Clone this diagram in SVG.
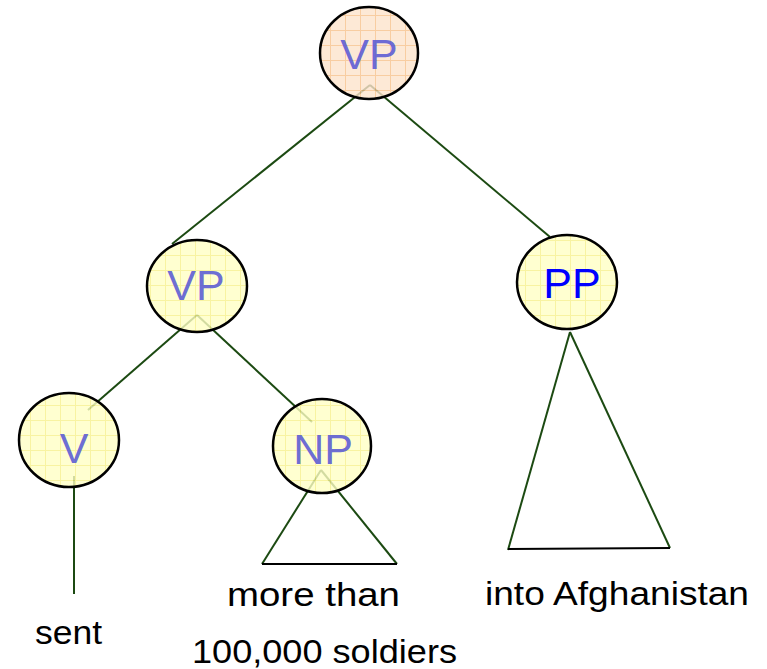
<svg xmlns="http://www.w3.org/2000/svg" width="767" height="669" viewBox="0 0 767 669">
<defs>
<pattern id="gy" width="15" height="15" patternUnits="userSpaceOnUse">
<rect width="15" height="15" fill="#ffffc4"/>
<path d="M0 0.5H15M0.5 0V15" stroke="#f6f08a" stroke-width="1" fill="none"/>
</pattern>
<pattern id="go" width="15" height="15" patternUnits="userSpaceOnUse">
<rect width="15" height="15" fill="#fde3cc"/>
<path d="M0 0.5H15M0.5 0V15" stroke="#f6c08a" stroke-width="1" fill="none"/>
</pattern>
<style>
.edge{stroke:#1c4a12;stroke-width:2;fill:none}
.base{stroke:#000;stroke-width:2;fill:none}
.node{stroke:#000;stroke-width:2.5;fill-opacity:0.8}
.lbl{font-family:"Liberation Sans",Arial,sans-serif;font-size:43px;text-anchor:middle;fill:#5a5ad4;fill-opacity:0.9}
.word{font-family:"Liberation Sans",Arial,sans-serif;font-size:34px;fill:#000}
</style>
</defs>
<rect width="767" height="669" fill="#fff"/>
<g id="connectors">
<line class="edge" x1="370" y1="85" x2="172" y2="244"/>
<line class="edge" x1="370" y1="85" x2="550" y2="237"/>
<line class="edge" x1="197" y1="315" x2="88" y2="410"/>
<line class="edge" x1="197" y1="315" x2="312" y2="422"/>
<line class="edge" x1="74" y1="476" x2="74" y2="594"/>
<line class="edge" x1="321" y1="470" x2="262" y2="564"/>
<line class="edge" x1="321" y1="470" x2="397" y2="564"/>
<line class="base" x1="262" y1="564" x2="397" y2="564"/>
<line class="edge" x1="570" y1="332" x2="508" y2="550"/>
<line class="edge" x1="570" y1="332" x2="670" y2="548"/>
<line class="base" x1="508" y1="549" x2="670" y2="548"/>
</g>
<g id="vp-top">
<ellipse class="node" cx="369" cy="53" rx="49" ry="46" fill="url(#go)"/>
<text class="lbl" x="369" y="69">VP</text>
</g>
<g id="vp-left">
<ellipse class="node" cx="197" cy="286" rx="50" ry="46" fill="url(#gy)"/>
<text class="lbl" x="196" y="300">VP</text>
</g>
<g id="v">
<ellipse class="node" cx="69" cy="440" rx="50" ry="47" fill="url(#gy)"/>
<text class="lbl" x="74" y="463">V</text>
</g>
<g id="np">
<ellipse class="node" cx="322" cy="446" rx="49" ry="47" fill="url(#gy)"/>
<text class="lbl" x="323" y="464">NP</text>
</g>
<g id="pp">
<ellipse class="node" cx="567" cy="282" rx="50" ry="47" fill="url(#gy)"/>
<text class="lbl" x="572" y="298" style="fill:#0000ff;fill-opacity:1">PP</text>
</g>
<g id="words">
<text class="word" x="35" y="644" textLength="67" lengthAdjust="spacingAndGlyphs">sent</text>
<text class="word" x="227" y="606" textLength="173" lengthAdjust="spacingAndGlyphs">more than</text>
<text class="word" x="192" y="663" textLength="265" lengthAdjust="spacingAndGlyphs">100,000 soldiers</text>
<text class="word" x="485" y="605" textLength="264" lengthAdjust="spacingAndGlyphs">into Afghanistan</text>
</g>
</svg>
